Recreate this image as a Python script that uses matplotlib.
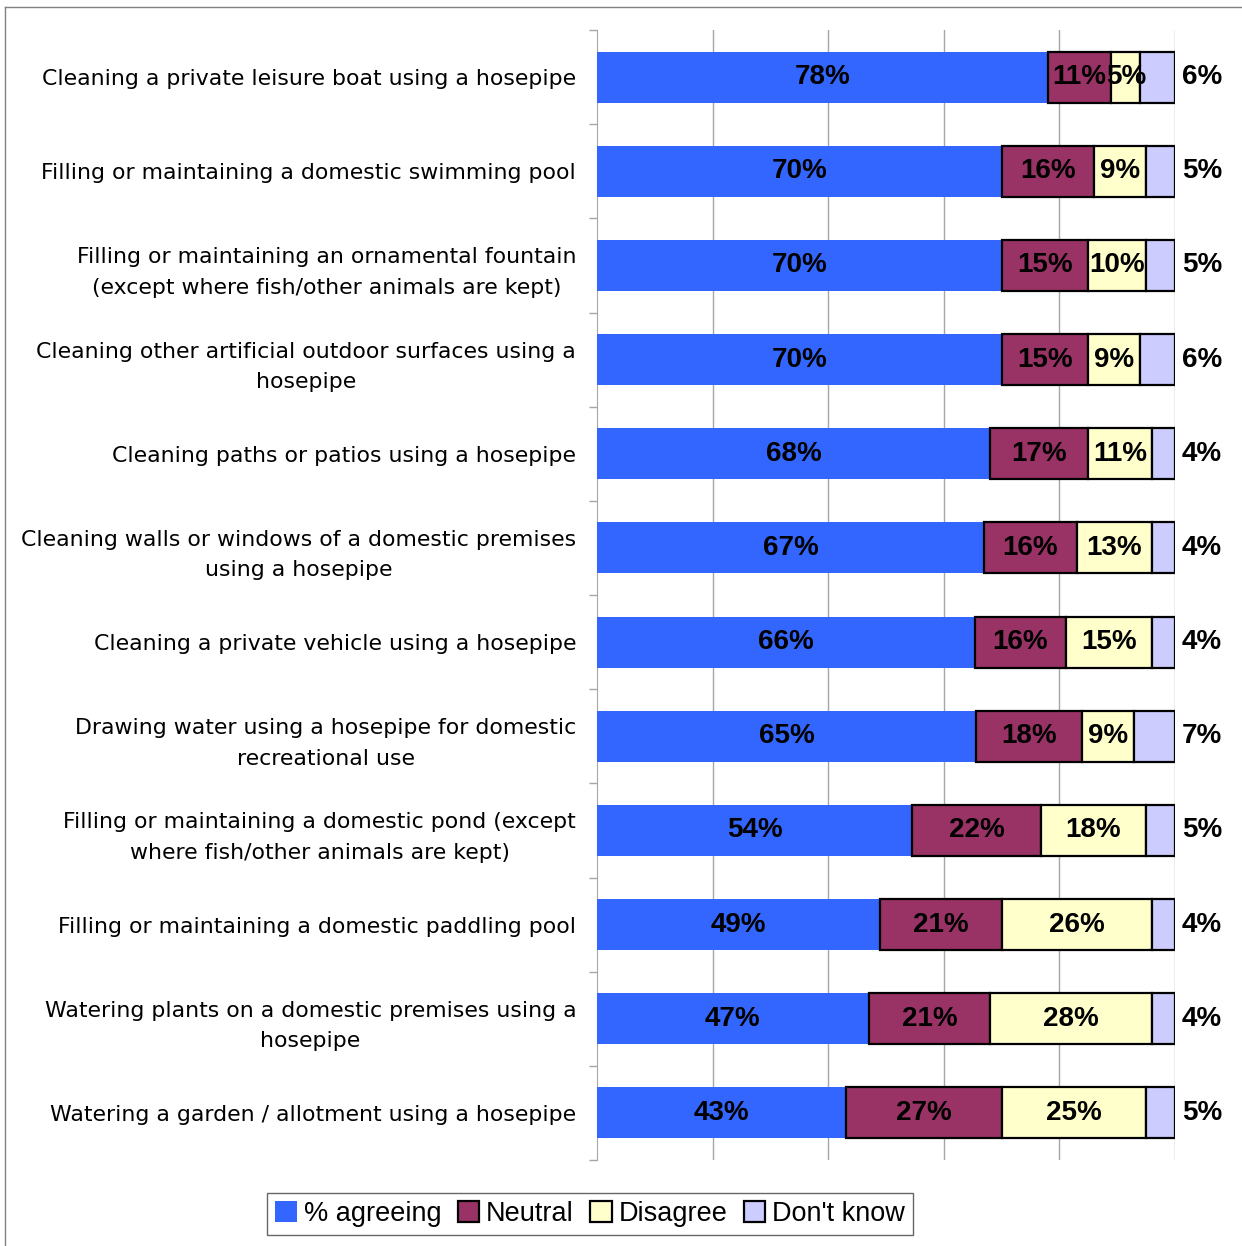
import matplotlib.pyplot as plt
from matplotlib.lines import Line2D

# survey statements, top to bottom
categories = [
    "Cleaning a private leisure boat using a hosepipe",
    "Filling or maintaining a domestic swimming pool",
    "Filling or maintaining an ornamental fountain\n(except where fish/other animals are kept)",
    "Cleaning other artificial outdoor surfaces using a\nhosepipe",
    "Cleaning paths or patios using a hosepipe",
    "Cleaning walls or windows of a domestic premises\nusing a hosepipe",
    "Cleaning a private vehicle using a hosepipe",
    "Drawing water using a hosepipe for domestic\nrecreational use",
    "Filling or maintaining a domestic pond (except\nwhere fish/other animals are kept)",
    "Filling or maintaining a domestic paddling pool",
    "Watering plants on a domestic premises using a\nhosepipe",
    "Watering a garden / allotment using a hosepipe",
]
agreeing = [78, 70, 70, 70, 68, 67, 66, 65, 54, 49, 47, 43]
neutral = [11, 16, 15, 15, 17, 16, 16, 18, 22, 21, 21, 27]
disagree = [5, 9, 10, 9, 11, 13, 15, 9, 18, 26, 28, 25]
dont_know = [6, 5, 5, 6, 4, 4, 4, 7, 5, 4, 4, 5]

series_names = ["% agreeing", "Neutral", "Disagree", "Don't know"]
colors = ["#3366FF", "#993366", "#FFFFCC", "#CCCCFF"]


def main():
    fig = plt.figure(figsize=(12.42, 12.46), dpi=100)
    W, H = 1242, 1246
    ax = fig.add_axes([597 / W, 1 - 1160 / H, (1175 - 597) / W, (1160 - 30) / H])

    n = len(categories)
    ypos = list(range(n))
    series = [agreeing, neutral, disagree, dont_know]
    totals = [sum(s[i] for s in series) for i in range(n)]

    left = [0.0] * n
    for k, (vals, name, col) in enumerate(zip(series, series_names, colors)):
        widths = [v * 100.0 / t for v, t in zip(vals, totals)]
        ax.barh(ypos, widths, left=left, height=0.54, color=col,
                edgecolor="none" if k == 0 else "black",
                linewidth=0 if k == 0 else 1.6, label=name, zorder=3)
        for i in range(n):
            if k < 3:
                x = left[i] + widths[i] / 2
                ax.text(x, ypos[i], f"{vals[i]}%", ha="center", va="center",
                        fontsize=20, fontweight="bold", family="Liberation Sans",
                        zorder=4)
            else:
                ax.text(101.2, ypos[i], f"{vals[i]}%", ha="left", va="center",
                        fontsize=20, fontweight="bold", family="Liberation Sans",
                        clip_on=False)
        left = [l + w for l, w in zip(left, widths)]

    ax.set_xlim(0, 100)
    ax.set_ylim(n - 0.5, -0.5)
    ax.set_xticks([20, 40, 60, 80, 100])
    ax.xaxis.grid(True, color="#A6A6A6", linewidth=1)
    ax.tick_params(axis="x", length=0, labelbottom=False)

    ax.set_yticks([i - 0.5 for i in range(n + 1)], minor=False)
    ax.set_yticklabels([])
    ax.set_yticks(ypos, minor=True)
    ax.set_yticklabels(categories, minor=True, fontsize=15.8,
                       family="DejaVu Sans", linespacing=1.65)
    ax.tick_params(axis="y", which="minor", length=0, pad=15)
    ax.tick_params(axis="y", which="major", length=6, color="#A6A6A6", width=1)
    for lab in ax.get_yticklabels(minor=True):
        lab.set_horizontalalignment("right")
        lab.set_multialignment("center")

    for side in ["top", "right", "bottom"]:
        ax.spines[side].set_visible(False)
    ax.spines["left"].set_color("#A6A6A6")

    leg = fig.legend(loc="center", bbox_to_anchor=(590 / W, 1 - 1214 / H),
                     ncol=4, frameon=True, fancybox=False, handlelength=0.8,
                     handleheight=0.8, handletextpad=0.25, columnspacing=0.6,
                     borderpad=0.3,
                     prop={"family": "Liberation Sans", "size": 19.5})
    leg.get_frame().set_edgecolor("#404040")
    leg.get_frame().set_linewidth(1)

    # outer frame shows only on the top and left
    fig.add_artist(Line2D([5 / W, 1], [1 - 7 / H, 1 - 7 / H],
                          transform=fig.transFigure, color="#808080", linewidth=1))
    fig.add_artist(Line2D([5 / W, 5 / W], [0, 1 - 7 / H],
                          transform=fig.transFigure, color="#808080", linewidth=1))

    fig.savefig("out.png", dpi=100)


if __name__ == "__main__":
    main()
